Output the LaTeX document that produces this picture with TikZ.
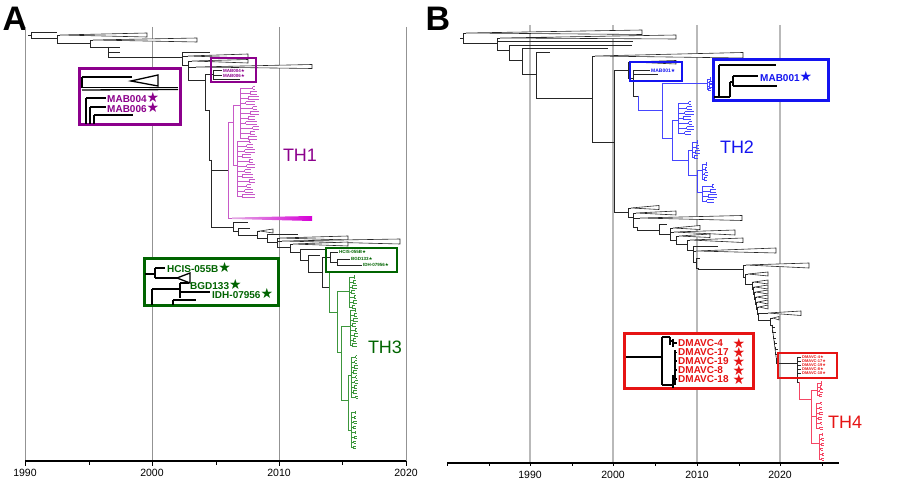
\documentclass[tikz,border=0pt]{standalone}
\usepackage{fontspec}
\setmainfont{Liberation Sans}
\newfontfamily\symfont{DejaVu Sans}
\definecolor{thpurple}{RGB}{140,0,140}
\definecolor{thpurplet}{RGB}{200,90,200}
\definecolor{thmag}{RGB}{215,0,215}
\definecolor{thgreen}{RGB}{0,100,0}
\definecolor{thgreent}{RGB}{60,150,60}
\definecolor{thblue}{RGB}{20,20,240}
\definecolor{thbluet}{RGB}{70,70,255}
\definecolor{thred}{RGB}{230,20,20}
\definecolor{thredt}{RGB}{245,70,100}
\tikzset{
  br/.style={line width=0.6pt, black!85},
  tri/.style={br, fill=white},
  gridA/.style={gray!85, line width=0.6pt},
  gridB/.style={gray!55, line width=1.1pt},
  axisline/.style={line width=1.3pt},
  bigbox/.style={line width=3pt, fill=white},
  smallbox/.style={line width=1.1pt},
  zoomtree/.style={line width=1.3pt},
  lbl/.style={inner sep=0pt, anchor=west, font=\bfseries\fontsize{10}{10}\selectfont},
  tinylbl/.style={inner sep=0pt, anchor=west, font=\bfseries\fontsize{4.5}{4.5}\selectfont},
  clade/.style={font=\fontsize{18}{18}\selectfont},
  yearlbl/.style={font=\fontsize{10.5}{10.5}\selectfont},
  panel/.style={font=\bfseries\fontsize{34}{34}\selectfont, inner sep=0pt},
}
% collapsed clade: apex x, apex y, base x, base top, base bottom
\newcommand{\ctri}[5]{\draw[tri] (#1,#2) -- (#3,#4) -- (#3,#5) -- cycle;}
% comb of small forks: root x, root y, first y, second y, last y, tip x, colour
\newcommand{\comb}[7]{%
  \foreach \yy [count=\k] in {#3,#4,...,#5}{%
    \pgfmathsetmacro\fx{#1+(#6-#1)*(0.3+0.12*mod(\k*3,4))}%
    \pgfmathsetmacro\tx{#6-(#6-#1)*0.1*mod(\k*2,3)}%
    \draw[br,#7] (#1,#2) |- (\fx,\yy);
    \draw[br,#7] (\fx,\yy-1.2) -- (\fx,\yy+1.2);
    \draw[br,#7] (\fx,\yy-1.2) -- (\tx,\yy-1.2);
    \draw[br,#7] (\fx,\yy+1.2) -- (\tx,\yy+1.2);
  }}
\newcommand{\bstar}{{\symfont\fontsize{14}{14}\selectfont ★}}
\newcommand{\sstar}{{\symfont ★}}
\begin{document}
\begin{tikzpicture}[x=1pt, y=-1pt]
\useasboundingbox (0,0) rectangle (900,486);

% ---------- panel A ----------
\node[panel] (lblA) at (15,19) {A};
\foreach \x/\yr in {25/1990,152/2000,279/2010,406/2020}{
  \draw[gridA] (\x,27) -- (\x,461);
  \draw[line width=1pt] (\x,461) -- (\x,466);
  \node[yearlbl] at (\x,473) {\yr};
}
\foreach \x in {89,216,342} \draw[line width=1pt] (\x,461) -- (\x,465);
\draw[axisline] (25,461) -- (406,461);

% backbone
\draw[br] (28,35.5) -- (31,35.5);
\foreach \px/\py/\cx/\cy in {31/35.5/57/32.5, 31/35.5/57/38.5,
  57/38.5/60/35, 57/38.5/90/43.5, 90/43.5/93/40, 90/43.5/108/47,
  108/47/120/47, 108/47/120/52.5, 108/47/182/57,
  182/57/210/52, 182/57/188/56, 182/57/188/65,
  188/65/192/61, 188/65/196/67, 188/65/205/80,
  205/80/213/74, 205/80/209/110,
  213/74/222/70.5, 213/74/222/75.5, 213/74/240/79,
  209/110/211/160, 211/160/228/170, 211/160/213/227,
  213/227/233/227, 233/227/248/222, 233/227/238/231,
  238/231/250/228, 238/231/257/235,
  257/235/260/231, 257/235/267/238,
  267/238/298/234, 267/238/277/242,
  277/242/280/238, 277/242/282/241, 277/242/290/247,
  290/247/293/244, 290/247/300/252,
  300/252/326/249, 300/252/308/260,
  308/260/320/255, 308/260/322/272,
  322/272/330/257, 322/272/329/287,
  330/257/338/252, 330/257/337/262, 337/262/350/259, 337/262/362/265}
  \draw[br] (\px,\py) |- (\cx,\cy);
\ctri{60}{35}{147}{33}{37}
\ctri{93}{40}{197}{38}{42}
\ctri{188}{56}{248}{54}{58}
\ctri{192}{61}{248}{59.5}{63}
\ctri{196}{67}{312}{64.5}{68.5}
\ctri{260}{231}{273}{229}{233}
\ctri{280}{238}{348}{236}{240}
\ctri{282}{241}{400}{239}{244}
\ctri{293}{244}{348}{242}{246}

% TH1
\foreach \px/\py/\cx/\cy in {228/170/233/122, 228/170/232/218,
  233/122/240/105, 233/122/237/165}
  \draw[br,thpurplet] (\px,\py) |- (\cx,\cy);
\comb{240}{105}{88}{93}{138}{259}{thpurplet}
\comb{237}{165}{141}{146}{196}{255}{thpurplet}
\shade[left color=thpurplet!50, right color=thmag] (232,217.5) -- (312,216) -- (312,221) -- (232,219) -- cycle;
\node[clade, text=thpurple] (th1) at (300,155) {TH1};

% TH3
\foreach \px/\py/\cx/\cy in {329/287/353/272, 329/287/337/312,
  337/312/349/291, 337/312/341/352, 341/352/350/326, 341/352/348/400,
  348/400/351/375, 348/400/351/430}
  \draw[br,thgreent] (\px,\py) |- (\cx,\cy);
\comb{349}{291}{277}{282}{307}{357}{thgreent}
\comb{350}{326}{310}{315}{345}{358}{thgreent}
\comb{351}{375}{357}{362}{397}{358}{thgreent}
\comb{351}{430}{412}{417}{447}{357}{thgreent}
\node[clade, text=thgreen] (th3) at (385,347) {TH3};

% small boxes A
\draw[thpurple, smallbox] (211,58) rectangle (256,82);
\node[tinylbl, text=thpurple] (m4s) at (223,70.5) {MAB004\sstar};
\node[tinylbl, text=thpurple] (m6s) at (223,75.5) {MAB006\sstar};
\draw[thgreen, smallbox] (326,248) rectangle (397,272);
\node[tinylbl, text=thgreen] (hcs) at (339,252) {HCIS-055B\sstar};
\node[tinylbl, text=thgreen] (bgs) at (351,259) {BGD133\sstar};
\node[tinylbl, text=thgreen] (ids) at (363,265) {IDH-07956\sstar};

% zoom purple
\draw[thpurple, bigbox] (79,69) rectangle (180,125);
\begin{scope}[zoomtree]
  \draw (82,77) -- (82,88); \draw (82,77) -- (132,77);
  \draw[fill=white] (131,81) -- (158,75) -- (158,86) -- cycle;
  \draw (82,87.5) -- (178,87.5); \draw (82,90) -- (178,89.5);
  \draw (86,98) -- (86,124); \draw (86,98) -- (106,98);
  \draw (90,107) -- (90,124); \draw (90,107) -- (106,107);
  \draw (94,115) -- (94,124); \draw (94,115) -- (133,115);
\end{scope}
\node[lbl, text=thpurple] (m4) at (107,97) {MAB004\bstar};
\node[lbl, text=thpurple] (m6) at (107,107) {MAB006\bstar};

% zoom green
\draw[thgreen, bigbox] (144,259) rectangle (278,306);
\begin{scope}[zoomtree]
  \draw (145,274) -- (155,274); \draw (155,268) -- (155,278);
  \draw (155,268) -- (165,268); \draw (155,278) -- (177,278);
  \draw[fill=white] (177,278) -- (190,273) -- (190,283) -- cycle;
  \draw (152,289) -- (152,305); \draw (152,289) -- (180,289);
  \draw (180,283) -- (180,298); \draw (180,283) -- (189,283);
  \draw (180,292) -- (210,292);
  \draw (173,300) -- (196,300); \draw (173,300) -- (173,305);
\end{scope}
\node[lbl, text=thgreen] (hc) at (167,267) {HCIS-055B\bstar};
\node[lbl, text=thgreen] (bg) at (190,284) {BGD133\bstar};
\node[lbl, text=thgreen] (id) at (212,293) {IDH-07956\bstar};

% ---------- panel B ----------
\node[panel] (lblB) at (438,19) {B};
\foreach \x/\yr in {530/1990,613/2000,697/2010,780/2020}{
  \draw[gridB] (\x,25) -- (\x,463);
  \node[yearlbl] at (\x,475) {\yr};
}
\foreach \x in {447,489,530,572,613,655,697,739,780,822}
  \draw[line width=1pt] (\x,463) -- (\x,466);
\draw[axisline] (447,463) -- (839,463);

\draw[br] (460,38) -- (463,38);
\foreach \px/\py/\cx/\cy in {463/38/466/33, 463/38/497/43,
  497/43/500/38, 497/43/633/41, 497/43/509/50,
  509/50/632/45, 509/50/522/60, 522/60/608/48, 522/60/536/74,
  536/74/550/52, 536/74/592/98, 592/98/595/56, 592/98/614/142,
  614/142/628/70, 614/142/628/212, 628/70/630/62, 628/70/633/78,
  633/78/650/70.5, 633/78/658/74.5, 633/78/638/96,
  628/212/631/208, 628/212/633/217,
  633/217/636/213, 633/217/640/218, 633/217/637/227, 637/227/659/230,
  659/230/667/224, 659/230/670/234,
  670/234/673/228, 670/234/674/232, 670/234/676/240,
  676/240/679/236, 676/240/687/244, 687/244/690/240, 687/244/693/250,
  693/250/718/246, 693/250/696/251, 693/250/696/262,
  696/262/700/258, 696/262/698/268, 698/268/743/269,
  743/269/746/265, 743/269/745/277, 745/277/748/274, 745/277/752/284,
  758/314/768/313, 758/314/770/320, 770/320/773/318, 770/320/772/325}
  \draw[br] (\px,\py) |- (\cx,\cy);
\ctri{466}{33}{642}{30}{34.5}
\ctri{500}{38}{676}{35}{39}
\ctri{595}{56}{743}{52.5}{58}
\ctri{630}{62}{676}{60.5}{64}
\ctri{631}{208}{659}{205.5}{209.5}
\ctri{636}{213}{676}{211}{215}
\ctri{640}{218}{742}{215.5}{220.5}
\ctri{673}{228}{700}{225.5}{229.5}
\ctri{674}{232}{735}{230}{235}
\ctri{679}{236}{710}{234}{237.5}
\ctri{690}{240}{743}{238}{242.5}
\ctri{696}{251}{776}{248}{253}
\ctri{746}{265}{809}{263}{268}
\ctri{748}{274}{768}{272}{276}
\ctri{768}{313}{801}{311}{315.5}
\ctri{773}{318}{779}{316.5}{320}
\foreach \k in {0,...,5}{
  \pgfmathsetmacro\nx{752+\k}
  \pgfmathsetmacro\ny{284+5*\k}
  \draw[br] (\nx,\ny) |- (\nx+2,\ny-2);
  \draw[tri] (\nx+2,\ny-2) -- (768,\ny-4) -- (768,\ny) -- cycle;
  \draw[br] (\nx,\ny) |- (\nx+1,\ny+5);
}
\foreach \k in {0,...,5}{
  \pgfmathsetmacro\nx{772+0.7*\k}
  \pgfmathsetmacro\ny{325+5.5*\k}
  \draw[br] (\nx,\ny) |- (\nx+3,\ny+2);
  \draw[br] (\nx,\ny) -- (\nx+0.7,\ny+5.5);
}
\draw[br] (776,358) |- (797,363);
\foreach \cy in {357,361,365,369,373}
  \draw[br] (797,363) |- (801,\cy);
\draw[br] (797,363) |- (799,382);

% TH2
\foreach \px/\py/\cx/\cy in {638/96/662/110, 662/110/707/83, 662/110/672/138,
  672/138/678/120, 672/138/688/160, 688/160/692/150, 688/160/697/175,
  697/175/702/170, 697/175/702/192}
  \draw[br,thbluet] (\px,\py) |- (\cx,\cy);
\comb{707}{83}{79}{82.5}{90}{712}{thbluet}
\comb{678}{120}{103}{108}{133}{694}{thbluet}
\comb{692}{150}{142}{147}{157}{700}{thbluet}
\comb{702}{170}{164}{169}{179}{708}{thbluet}
\comb{702}{192}{186}{191}{201}{717}{thbluet}
\node[clade, text=thblue] (th2) at (737,147) {TH2};

% TH4
\foreach \px/\py/\cx/\cy in {799/382/811/399, 811/399/817/390,
  811/399/816/416, 811/399/819/443}
  \draw[br,thredt] (\px,\py) |- (\cx,\cy);
\comb{817}{390}{383}{387}{395}{823}{thredt}
\comb{816}{416}{403}{408}{428}{823}{thredt}
\comb{819}{443}{434}{439}{459}{824}{thredt}
\node[clade, text=thred] (th4) at (845,422) {TH4};

% small boxes B
\draw[thblue, smallbox] (630,62) rectangle (682,81);
\node[tinylbl, text=thblue, font=\bfseries\fontsize{5}{5}\selectfont] (m1s) at (651,70.5) {MAB001\sstar};
\draw[thred, smallbox] (778,353) rectangle (837,378);
\foreach \t [count=\i] in {DMAVC-4,DMAVC-17,DMAVC-19,DMAVC-8,DMAVC-18}
  \node[tinylbl, text=thred, font=\bfseries\fontsize{4}{4}\selectfont] (d\i s) at (802,353+4*\i) {\t\sstar};

% zoom blue
\draw[thblue, bigbox] (713,60) rectangle (828,101);
\begin{scope}[zoomtree]
  \draw (714,97) -- (719,97); \draw (719,65) -- (719,98);
  \draw (719,65) -- (776,65); \draw (719,97) -- (730,97);
  \draw (730,82) -- (730,97); \draw (730,82) -- (733,82);
  \draw (733,76) -- (733,86); \draw (733,76) -- (758,76);
  \draw (733,86) -- (777,86);
\end{scope}
\node[lbl, text=thblue] (m1) at (760,76) {MAB001\bstar};

% zoom red
\draw[thred, bigbox] (624,334) rectangle (753,389);
\begin{scope}[zoomtree]
  \draw (626,357) -- (662,357); \draw (662,337) -- (662,385);
  \draw (662,337) -- (670,337); \draw (670,337) -- (670,345);
  \draw (670,341) -- (673,341); \draw (673,339) -- (673,347);
  \draw (673,343) -- (677,343);
  \draw (662,385) -- (673,385); \draw (673,375) -- (673,388);
  \draw (675,350) -- (675,385);
  \foreach \yy in {352.3,361,370,379} \draw (675,\yy) -- (677,\yy);
\end{scope}
\foreach \t/\yy [count=\i] in {DMAVC-4/343.3,DMAVC-17/352.3,DMAVC-19/361.2,DMAVC-8/370.2,DMAVC-18/379.2}{
  \node[lbl, text=thred] (d\i) at (678,\yy) {\t};
  \node[text=thred, inner sep=0pt] (d\i star) at (739,\yy) {\bstar};
}
\end{tikzpicture}
\end{document}
